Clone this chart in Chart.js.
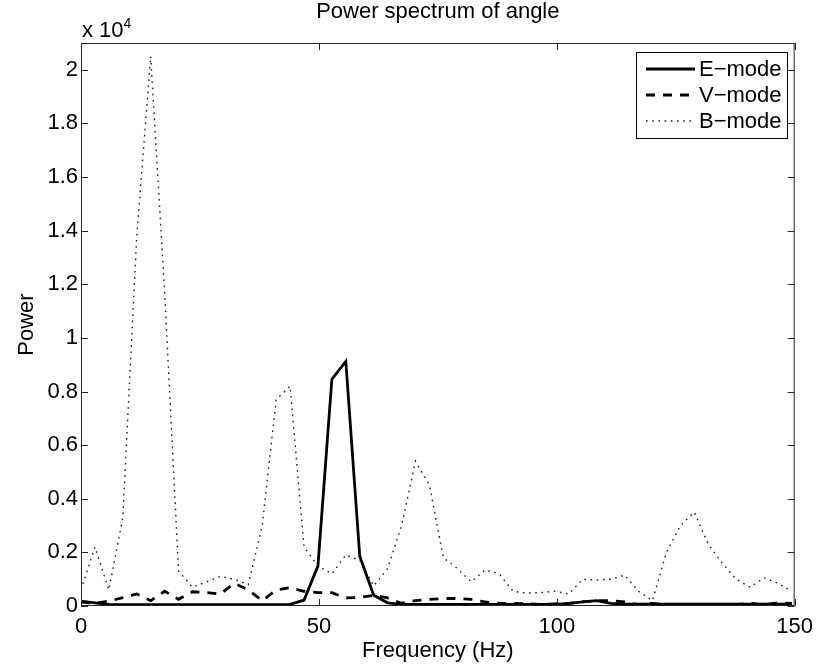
<!DOCTYPE html>
<html>
<head>
<meta charset="utf-8">
<script src="https://cdn.jsdelivr.net/npm/chart.js@4.4.1/dist/chart.umd.min.js"></script>
<style>
  html, body { margin: 0; padding: 0; background: #fff; }
  #wrap { width: 821px; height: 668px; }
</style>
</head>
<body>
<div id="wrap"><canvas id="chart" width="821" height="668"></canvas></div>
<script>
// frequency bins (Hz)
const freqs = [0, 2.93, 5.86, 8.79, 11.72, 14.65, 17.58, 20.51, 23.44, 26.37,
  29.3, 32.23, 35.16, 38.09, 41.02, 43.95, 46.88, 49.8, 52.73, 55.66,
  58.59, 61.52, 64.45, 67.38, 70.31, 73.24, 76.17, 79.1, 82.03, 84.96,
  87.89, 90.82, 93.75, 96.68, 99.61, 102.54, 105.47, 108.4, 111.33, 114.26,
  117.19, 120.12, 123.05, 125.98, 128.91, 131.84, 134.77, 137.7, 140.63, 143.55,
  146.48, 149.41];

const eMode = [180, 120, 60, 50, 50, 50, 50, 50, 50, 50,
  50, 50, 50, 50, 50, 60, 220, 1490, 8460, 9120,
  1860, 400, 120, 60, 60, 60, 60, 60, 60, 60,
  60, 60, 60, 60, 60, 100, 150, 200, 100, 70,
  70, 70, 70, 70, 70, 70, 70, 70, 70, 70,
  70, 70];

const vMode = [150, 100, 180, 310, 450, 200, 550, 250, 530, 500,
  450, 850, 600, 200, 600, 680, 550, 500, 500, 300,
  320, 400, 300, 100, 200, 250, 280, 280, 250, 150,
  100, 100, 80, 60, 80, 100, 150, 200, 200, 150,
  50, 100, 50, 60, 50, 60, 50, 60, 100, 50,
  120, 100];

const bMode = [600, 2200, 600, 3300, 13800, 20500, 11700, 1300, 700, 900,
  1100, 1000, 800, 3000, 7700, 8200, 2200, 1500, 1200, 1900,
  1700, 750, 1400, 3000, 5400, 4500, 1800, 1400, 900, 1350,
  1200, 550, 480, 500, 550, 450, 1000, 970, 1000, 1150,
  550, 200, 2000, 3000, 3500, 2300, 1600, 1000, 700, 1050,
  850, 550];

const seriesNames = ['E\u2212mode', 'V\u2212mode', 'B\u2212mode'];
const xTicks = [0, 50, 100, 150];
const yTicks = [0, 2000, 4000, 6000, 8000, 10000, 12000, 14000, 16000, 18000, 20000];

const FONT = "'Liberation Sans', Arial, Helvetica, sans-serif";
const INK = '#000';
const FRAME = '#262626';

const toPoints = (vals) => vals.map((v, i) => ({ x: freqs[i], y: v }));

// box, inward ticks, legend and exponent label, matlab style
const framePlugin = {
  id: 'frame',
  afterDatasetsDraw(chart) {
    const { ctx, chartArea: a, scales: { x, y } } = chart;
    ctx.save();
    ctx.strokeStyle = FRAME;
    ctx.lineWidth = 1;
    ctx.strokeRect(a.left + 0.5, a.top + 0.5, a.right - a.left - 1, a.bottom - a.top - 1);

    const tl = 7;
    ctx.beginPath();
    x.ticks.forEach((t) => {
      const px = Math.round(x.getPixelForValue(t.value)) + 0.5;
      ctx.moveTo(px, a.bottom); ctx.lineTo(px, a.bottom - tl);
      ctx.moveTo(px, a.top); ctx.lineTo(px, a.top + tl);
    });
    y.ticks.forEach((t) => {
      const py = Math.round(y.getPixelForValue(t.value)) + 0.5;
      ctx.moveTo(a.left, py); ctx.lineTo(a.left + tl, py);
      ctx.moveTo(a.right, py); ctx.lineTo(a.right - tl, py);
    });
    ctx.stroke();

    // exponent
    ctx.fillStyle = INK;
    ctx.textBaseline = 'alphabetic';
    ctx.textAlign = 'left';
    ctx.font = `22px ${FONT}`;
    ctx.fillText('x 10', a.left + 1, a.top - 6);
    const w = ctx.measureText('x 10').width;
    ctx.font = `14px ${FONT}`;
    ctx.fillText('4', a.left + 1 + w, a.top - 15);

    // title
    ctx.font = `22px ${FONT}`;
    ctx.textAlign = 'center';
    ctx.fillText('Power spectrum of angle', (a.left + a.right) / 2, 18);

    // legend
    const lx = 636, ly = 52, lw = 151, lh = 86;
    ctx.fillStyle = '#fff';
    ctx.fillRect(lx, ly, lw, lh);
    ctx.strokeStyle = INK;
    ctx.lineWidth = 1;
    ctx.strokeRect(lx + 0.5, ly + 0.5, lw, lh);
    ctx.font = `22px ${FONT}`;
    ctx.textAlign = 'left';
    ctx.textBaseline = 'middle';
    chart.data.datasets.forEach((ds, i) => {
      const yy = ly + 17 + i * 26;
      ctx.save();
      ctx.strokeStyle = ds.borderColor;
      ctx.lineWidth = ds.borderWidth;
      ctx.setLineDash(ds.borderDash || []);
      ctx.beginPath();
      ctx.moveTo(lx + 10, yy); ctx.lineTo(lx + 59, yy);
      ctx.stroke();
      ctx.restore();
      ctx.fillStyle = INK;
      ctx.fillText(ds.label, lx + 63, yy + 1);
    });
    ctx.restore();
  }
};

new Chart(document.getElementById('chart'), {
  type: 'line',
  data: {
    datasets: [
      { label: seriesNames[0], data: toPoints(eMode), borderColor: '#000', borderWidth: 2.8, borderDash: [] },
      { label: seriesNames[1], data: toPoints(vMode), borderColor: '#000', borderWidth: 2.8, borderDash: [9, 8] },
      { label: seriesNames[2], data: toPoints(bMode), borderColor: '#1a1a1a', borderWidth: 1.4, borderDash: [1.6, 4.6] },
    ]
  },
  options: {
    responsive: false,
    animation: false,
    events: [],
    elements: { point: { radius: 0 }, line: { tension: 0, fill: false } },
    layout: { padding: { top: 43, right: 26, left: 0, bottom: 0 } },
    plugins: { legend: { display: false }, tooltip: { enabled: false }, title: { display: false } },
    scales: {
      x: {
        type: 'linear', min: 0, max: 150,
        afterBuildTicks: (s) => { s.ticks = xTicks.map((v) => ({ value: v })); },
        afterFit: (s) => { s.height = 62; },
        ticks: { color: INK, padding: 8, maxRotation: 0, font: { family: FONT, size: 22 } },
        grid: { display: false, drawTicks: false },
        border: { display: false },
        title: { display: true, text: 'Frequency (Hz)', color: INK, font: { family: FONT, size: 22 }, padding: { top: 0, bottom: 4 } }
      },
      y: {
        min: 0, max: 21000,
        afterBuildTicks: (s) => { s.ticks = yTicks.map((v) => ({ value: v })); },
        afterFit: (s) => { s.width = 81; },
        ticks: { color: INK, padding: 3, autoSkip: false, font: { family: FONT, size: 22 },
          callback: (v) => String(+(v / 1e4).toFixed(1)) },
        grid: { display: false, drawTicks: false },
        border: { display: false },
        title: { display: true, text: 'Power', color: INK, font: { family: FONT, size: 22 }, padding: { top: 14, bottom: 0 } }
      }
    }
  },
  plugins: [framePlugin]
});
</script>
</body>
</html>
